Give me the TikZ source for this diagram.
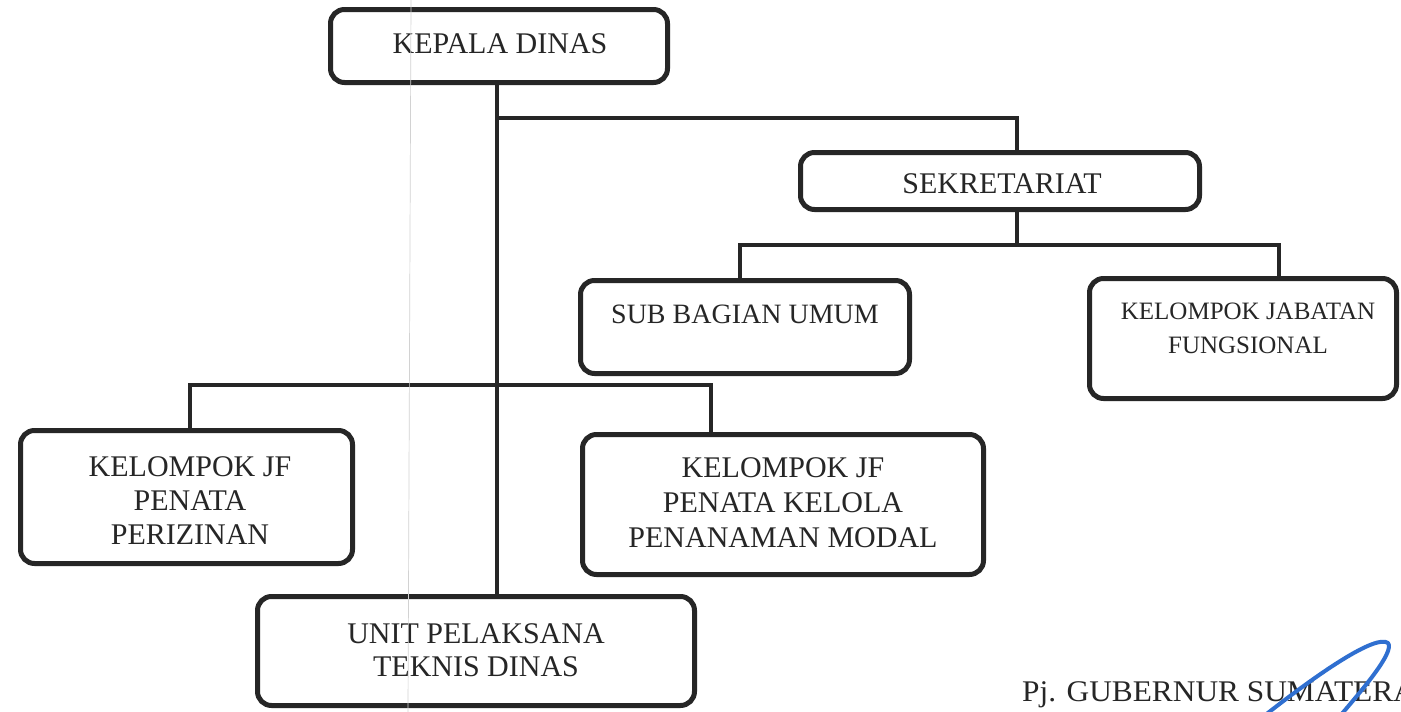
\documentclass[tikz,border=0pt]{standalone}
\usepackage{fontspec}
\setmainfont{Liberation Serif}
\definecolor{ink}{HTML}{262626}
\definecolor{sig}{HTML}{2F6FD0}
\tikzset{
  orgbox/.style={draw=ink, line width=5pt, rounded corners=14pt, inner sep=0pt, fill=white},
  conn/.style={draw=ink, line width=4pt},
  lbl/.style={inner sep=0pt, align=center, text=ink, font=\fontsize{30}{34}\selectfont},
}
\begin{document}
\begin{tikzpicture}[x=1pt,y=-1pt]
\useasboundingbox (0,0) rectangle (1401,712);
\clip (0,0) rectangle (1401,712);
\fill[white] (0,0) rectangle (1401,712);

% boxes
\node[orgbox, minimum width=337pt, minimum height=73pt]  (kd)  at (499,46) {};
\node[orgbox, minimum width=399pt, minimum height=57pt]  (sek) at (1000,181) {};
\node[orgbox, minimum width=329pt, minimum height=93pt]  (sub) at (745,327) {};
\node[orgbox, minimum width=307pt, minimum height=120pt] (kjf) at (1243,338.5) {};
\node[orgbox, minimum width=332pt, minimum height=133pt] (pz)  at (186.5,497) {};
\node[orgbox, minimum width=401pt, minimum height=140pt] (pm)  at (783,504.5) {};
\node[orgbox, minimum width=437pt, minimum height=109pt] (upt) at (476,651) {};

% coordinates for connector routes
\coordinate (trunk) at (497,0);
\coordinate (bus1) at (0,118);
\coordinate (bus2) at (0,245);
\coordinate (bus3) at (0,385);
\coordinate (sekx) at (1017,0);
\coordinate (subx) at (740,0);
\coordinate (kjfx) at (1279,0);
\coordinate (pzx) at (190,0);
\coordinate (pmx) at (711,0);

% connectors
\draw[conn] (kd.south -| trunk) -- (upt.north -| trunk);
\draw[conn] (trunk |- bus1) -- (sekx |- bus1) -- (sek.north -| sekx);
\draw[conn] (sek.south -| sekx) -- (sekx |- bus2);
\draw[conn] (sub.north -| subx) -- (subx |- bus2) -- (kjfx |- bus2) -- (kjf.north -| kjfx);
\draw[conn] (pz.north -| pzx) -- (pzx |- bus3) -- (pmx |- bus3) -- (pm.north -| pmx);

% labels
\node[lbl] (t-kd)  at (500,44)  {KEPALA DINAS};
\node[lbl] (t-sek) at (1002,184) {SEKRETARIAT};
\node[lbl, font=\fontsize{28}{34}\selectfont] (t-sub) at (745,314) {SUB BAGIAN UMUM};
\node[lbl, font=\fontsize{25}{34}\selectfont] (t-kjf) at (1248,328) {KELOMPOK JABATAN\\FUNGSIONAL};
\node[lbl] (t-pz)  at (190,501) {KELOMPOK JF\\PENATA\\PERIZINAN};
\node[lbl, font=\fontsize{30}{35}\selectfont] (t-pm)  at (783,503) {KELOMPOK JF\\PENATA KELOLA\\PENANAMAN MODAL};
\node[lbl, font=\fontsize{30}{33}\selectfont] (t-upt) at (476,650) {UNIT PELAKSANA\\TEKNIS DINAS};

% signature block
\node[lbl, anchor=base west, xscale=1.045] (pj) at (1022,701) {Pj. GUBERNUR SUMATERA};
\draw[sig, line width=4pt, line cap=round, line join=round]
  (1264,716) .. controls (1320,672) and (1376,634) .. (1388,643)
  .. controls (1395,652) and (1362,690) .. (1340,716);

% scan crease
\draw[gray!35, line width=0.7pt] (411,0) -- (408,712);
\end{tikzpicture}
\end{document}
